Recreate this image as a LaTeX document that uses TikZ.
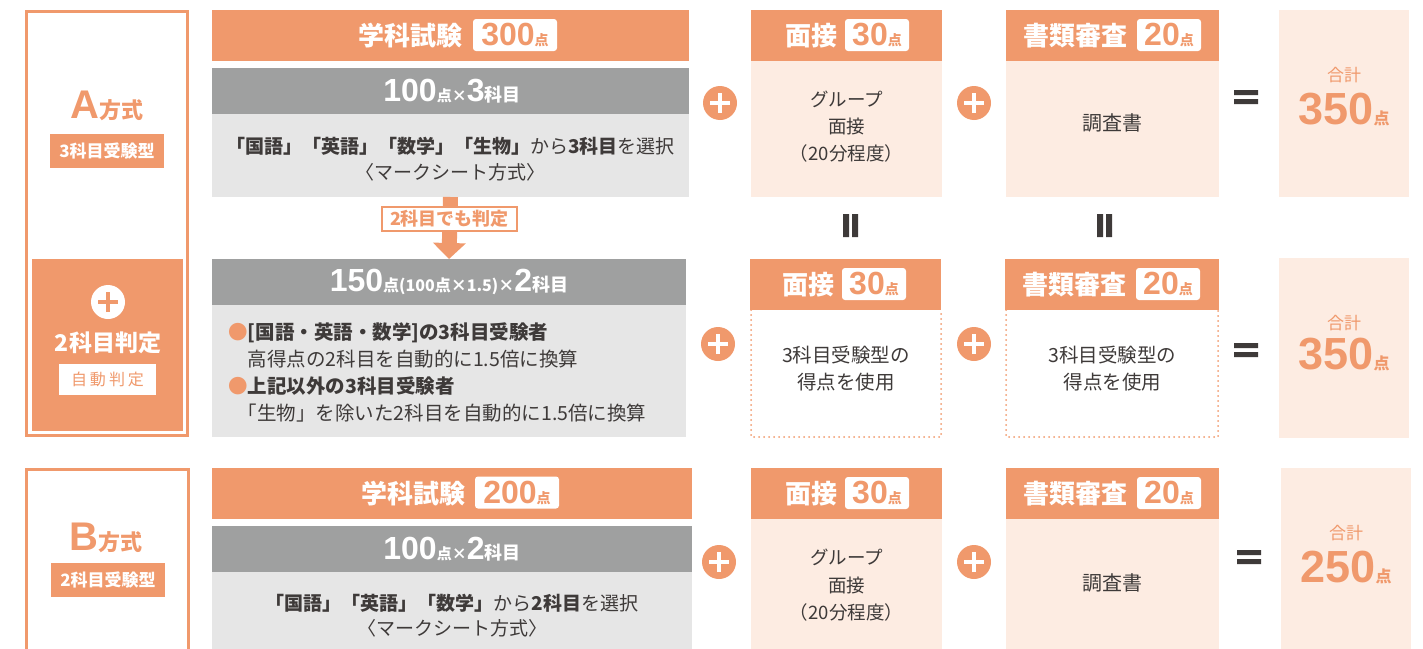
\documentclass[tikz,border=0pt]{standalone}
\usepackage{fontspec}
\setmainfont{Noto Sans CJK JP}
\newfontfamily\numfont{Liberation Sans}
\usetikzlibrary{arrows.meta}

\definecolor{acc}{RGB}{240,153,108}
\definecolor{pnk}{RGB}{253,236,226}
\definecolor{barg}{RGB}{159,160,160}
\definecolor{lgr}{RGB}{230,230,230}
\definecolor{txt}{RGB}{62,58,57}

\newcommand{\fs}[2]{\fontsize{#1}{#2}\selectfont}
\newcommand{\bignum}[1]{{\numfont\bfseries\fs{32}{33}#1}}
\newcommand{\pt}[1]{{\bfseries\fs{#1}{#1}点}}

\begin{document}
\begin{tikzpicture}[x=1pt,y=-1pt,
	box/.style={anchor=north west, inner sep=0pt, outer sep=0pt},
	hd/.style={box, fill=acc, minimum height=51pt},
	bar/.style={box, fill=barg, minimum height=46pt},
	gbody/.style={box, fill=lgr},
	pbody/.style={box, fill=pnk},
	hdtxt/.style={text=white, font=\bfseries\fs{26}{28}, inner sep=0pt},
	bartxt/.style={text=white, inner sep=0pt},
	body/.style={text=txt, align=center, inner sep=0pt},
	badge/.style={fill=white, rounded corners=3pt, text=acc, minimum height=32pt, inner sep=0pt},
	frame/.style={draw=acc, line width=3pt},
	tag/.style={fill=acc, text=white, minimum width=114pt, minimum height=34pt, inner sep=0pt, font=\bfseries\fs{17}{18}},
	plus/.style={circle, fill=acc, minimum size=34pt, inner sep=0pt,
		path picture={\draw[white, line width=3.5pt]
			([xshift=-10pt]path picture bounding box.center) -- ([xshift=10pt]path picture bounding box.center)
			([yshift=-10pt]path picture bounding box.center) -- ([yshift=10pt]path picture bounding box.center);}},
	pluswh/.style={plus, fill=white,
		path picture={\draw[acc, line width=3.5pt]
			([xshift=-10pt]path picture bounding box.center) -- ([xshift=10pt]path picture bounding box.center)
			([yshift=-10pt]path picture bounding box.center) -- ([yshift=10pt]path picture bounding box.center);}},
	dots/.style={draw=acc, line width=2pt, dash pattern=on 0pt off 5pt, line cap=round},
	total/.style={text=acc, align=center, inner sep=0pt}
	]
	\useasboundingbox (0,0) rectangle (1423,648);
	\clip (0,0) rectangle (1423,648);

	%left column
	\draw[frame] (26.5,11.5) rectangle (187.5,435.5);
	\draw[frame] (26.5,469.5) rectangle (188.5,700);
	\node[total] (nmA) at (107,106) {{\numfont\bfseries\fs{40}{41}A}{\bfseries\fs{22}{24}方式}};
	\node[tag] (tgA) at (107,151) {3科目受験型};
	\node[box, fill=acc, minimum width=151pt, minimum height=172pt] (twoA) at (32,259) {};
	\node[pluswh] (plw) at (108,302) {};
	\node[text=white, font=\bfseries\fs{23}{25}, inner sep=0pt] (twoL) at (108,343) {2科目判定};
	\node[fill=white, text=acc, minimum width=97pt, minimum height=31pt, inner sep=0pt, font=\fs{16}{17}] (autoL) at (107.5,379.5) {自\hspace{3pt}動\hspace{3pt}判\hspace{3pt}定};
	\node[total] (nmB) at (106,538) {{\numfont\bfseries\fs{40}{41}B}{\bfseries\fs{22}{24}方式}};
	\node[tag] (tgB) at (108,580) {2科目受験型};

	%exam, row A
	\node[hd, minimum width=477pt] (exA) at (212,10) {};
	\node[hdtxt] (exAt) at (410.5,35.5) {学科試験};
	\node[badge, minimum width=84pt] (exAp) at (515,35) {\bignum{300}\pt{14}};
	\node[bar, minimum width=477pt] (barA) at (212,68) {};
	\node[bartxt] (barAt) at (452,91) {\bignum{100}\pt{15}{\bfseries\fs{15}{16}×}\bignum{3}{\bfseries\fs{18}{19}科目}};
	\node[gbody, minimum width=477pt, minimum height=83pt] (bdA) at (212,114) {};
	\node[body, font=\fs{19}{26}] (bdAt) at (450.5,159) {\textbf{「国語」「英語」「数学」「生物」}から\textbf{3科目}を選択\\〈マークシート方式〉};

	%two subjects, row A2
	\node[bar, minimum width=474pt] (barA2) at (212,259) {};
	\node[bartxt] (barA2t) at (449,282) {\bignum{150}{\bfseries\fs{16}{17}点(100点×1.5)×}\bignum{2}{\bfseries\fs{18}{19}科目}};
	\node[gbody, minimum width=474pt, minimum height=132pt] (bdA2) at (212,305) {};
	\node[body, align=left, anchor=west, font=\fs{19.5}{27}] (bdA2t) at (228,372.5)
		{\textcolor{acc}{●}\textbf{[国語・英語・数学]の3科目受験者}\\
		\hspace*{1em}高得点の2科目を自動的に1.5倍に換算\\
		\textcolor{acc}{●}\textbf{上記以外の3科目受験者}\\
		\hspace*{0.5em}「生物」を除いた2科目を自動的に1.5倍に換算};

	\draw[acc, line width=15pt, -{Triangle[width=32pt,length=16pt]}] (bdA.south) -- (barA2.north);
	\node[draw=acc, line width=2pt, fill=white, text=acc, font=\bfseries\fs{18}{19}, minimum width=135pt, minimum height=24pt, inner sep=0pt] (jdg) at (449.5,219) {2科目でも判定};

	%interview and documents, row A
	\node[plus] (plA1) at (720,103) {};
	\node[hd, minimum width=191pt] (ivA) at (751,10) {};
	\node[hdtxt] (ivAt) at (811,35.5) {面接};
	\node[badge, minimum width=64pt] (ivAp) at (877,35) {\bignum{30}\pt{14}};
	\node[pbody, minimum width=191pt, minimum height=136pt] (ivAb) at (751,61) {};
	\node[body, font=\fs{18.5}{27}] (ivAbt) at (846.5,127) {グループ\\面接\\（20分程度）};
	\node[plus] (plA2) at (974,103) {};
	\node[hd, minimum width=213pt] (dcA) at (1006,10) {};
	\node[hdtxt] (dcAt) at (1075.5,35.5) {書類審査};
	\node[badge, minimum width=64pt] (dcAp) at (1169,35) {\bignum{20}\pt{14}};
	\node[pbody, minimum width=213pt, minimum height=136pt] (dcAb) at (1006,61) {};
	\node[body, font=\fs{20}{24}] (dcAbt) at (1112.5,123) {調査書};
	\node[pbody, minimum width=130pt, minimum height=187pt] (smA) at (1279,10) {};
	\node[total, font=\fs{17}{18}] (smAt) at (1344,75) {合計};
	\node[total] (smAn) at (1344,110) {{\numfont\bfseries\fs{45}{46}350}\pt{16}};

	%equal signs
	\foreach \x in {851,1105}{
		\fill[txt] (\x-8,214) rectangle (\x-2,237) (\x+1,214) rectangle (\x+7,237);}
	\foreach \x/\y in {1246/97,1246/350,1249/557}{
		\fill[txt] (\x-12,\y-7) rectangle (\x+12,\y-2) (\x-12,\y+2) rectangle (\x+12,\y+7);}

	%interview and documents, row A2
	\node[plus] (plA3) at (718,344) {};
	\node[hd, minimum width=191pt] (ivA2) at (750,259) {};
	\node[hdtxt] (ivA2t) at (808,284.5) {面接};
	\node[badge, minimum width=64pt] (ivA2p) at (874,284) {\bignum{30}\pt{14}};
	\draw[dots] (751,310) -- (751,437) -- (941,437) -- (941,310);
	\node[body, font=\fs{19.5}{27}] (ivA2bt) at (846,369) {3科目受験型の\\得点を使用};
	\node[plus] (plA4) at (974,344) {};
	\node[hd, minimum width=214pt] (dcA2) at (1005,259) {};
	\node[hdtxt] (dcA2t) at (1074,284.5) {書類審査};
	\node[badge, minimum width=64pt] (dcA2p) at (1168,284) {\bignum{20}\pt{14}};
	\draw[dots] (1006,310) -- (1006,437) -- (1218,437) -- (1218,310);
	\node[body, font=\fs{19.5}{27}] (dcA2bt) at (1112.5,369) {3科目受験型の\\得点を使用};
	\node[pbody, minimum width=130pt, minimum height=180pt] (smA2) at (1279,258) {};
	\node[total, font=\fs{17}{18}] (smA2t) at (1344,323) {合計};
	\node[total] (smA2n) at (1344,355) {{\numfont\bfseries\fs{45}{46}350}\pt{16}};

	%row B
	\node[hd, minimum width=480pt] (exB) at (212,468) {};
	\node[hdtxt] (exBt) at (413,493.5) {学科試験};
	\node[badge, minimum width=84pt] (exBp) at (517,492.5) {\bignum{200}\pt{14}};
	\node[bar, minimum width=480pt] (barB) at (212,526) {};
	\node[bartxt] (barBt) at (452,549) {\bignum{100}\pt{15}{\bfseries\fs{15}{16}×}\bignum{2}{\bfseries\fs{18}{19}科目}};
	\node[gbody, minimum width=480pt, minimum height=100pt] (bdB) at (212,572) {};
	\node[body, font=\fs{19}{25}] (bdBt) at (452,615.5) {\textbf{「国語」「英語」「数学」}から\textbf{2科目}を選択\\〈マークシート方式〉};

	\node[plus] (plB1) at (719,562) {};
	\node[hd, minimum width=191pt] (ivB) at (751,468) {};
	\node[hdtxt] (ivBt) at (811,493.5) {面接};
	\node[badge, minimum width=64pt] (ivBp) at (877,493) {\bignum{30}\pt{14}};
	\node[pbody, minimum width=191pt, minimum height=160pt] (ivBb) at (751,519) {};
	\node[body, font=\fs{18.5}{27.5}] (ivBbt) at (846.5,585.5) {グループ\\面接\\（20分程度）};
	\node[plus] (plB2) at (974,562) {};
	\node[hd, minimum width=213pt] (dcB) at (1006,468) {};
	\node[hdtxt] (dcBt) at (1075.5,493.5) {書類審査};
	\node[badge, minimum width=64pt] (dcBp) at (1169,493) {\bignum{20}\pt{14}};
	\node[pbody, minimum width=213pt, minimum height=160pt] (dcBb) at (1006,519) {};
	\node[body, font=\fs{20}{24}] (dcBbt) at (1112.5,583) {調査書};
	\node[pbody, minimum width=130pt, minimum height=200pt] (smB) at (1281,468) {};
	\node[total, font=\fs{17}{18}] (smBt) at (1346,533) {合計};
	\node[total] (smBn) at (1346,567) {{\numfont\bfseries\fs{45}{46}250}\pt{16}};
\end{tikzpicture}
\end{document}
